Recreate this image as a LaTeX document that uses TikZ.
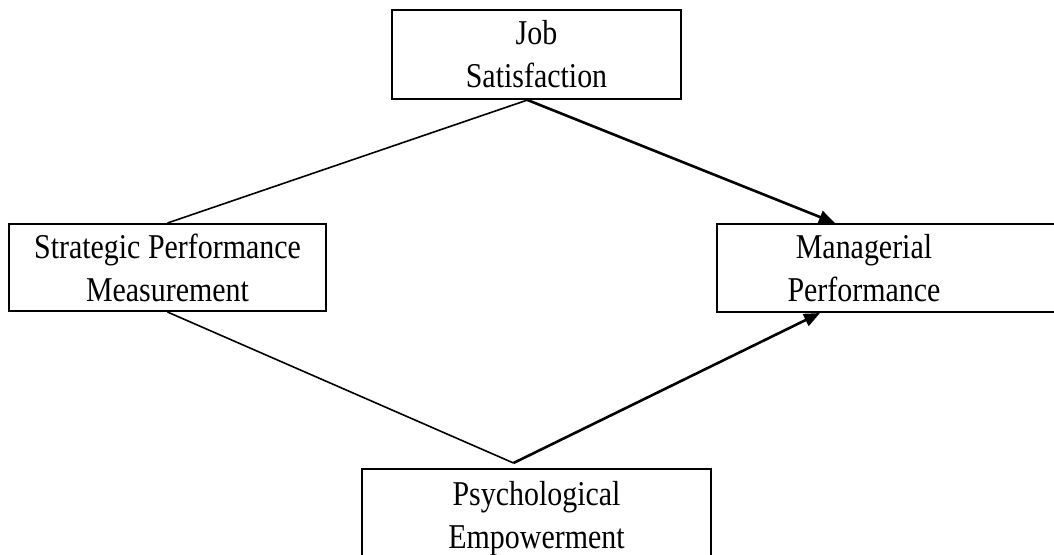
\documentclass[tikz,border=0pt]{standalone}
\usepackage{fontspec}
\setmainfont{Liberation Serif}[FakeStretch=0.86]
\usetikzlibrary{arrows.meta}

\begin{document}
\begin{tikzpicture}[x=0.5pt, y=-0.5pt, >={Triangle[length=8pt,width=6.5pt]}]

\tikzstyle{box}=[draw, line width=1pt, align=center, font=\fontsize{17.4}{21.5}\selectfont]
\tikzstyle{txt}=[align=center, font=\fontsize{17.4}{21.5}\selectfont]
\tikzstyle{link}=[line width=0.8pt]
\tikzstyle{arrow}=[->, line width=1.3pt]

\useasboundingbox (0,0) rectangle (1054,554);

% --- variables ---
\node[box, minimum width=144.5pt, minimum height=44.5pt] (job) at (536.5,54.5) {Job\\Satisfaction};
\node[box, minimum width=158.5pt, minimum height=43.5pt] (spm) at (167.5,267.5) {Strategic Performance\\Measurement};
\node[box, minimum width=182pt, minimum height=44pt, anchor=west] (mp) at (716,268) {};
\node[txt] (mptext) at (864,268) {Managerial\\Performance};
\node[box, minimum width=174.5pt, minimum height=50pt] (pe) at (536.5,519) {Psychological\\Empowerment};

% --- meeting points ---
\coordinate (jmeet) at ([xshift=-4.5pt]job.south);
\coordinate (pmeet) at ([xshift=-11.5pt, yshift=2.5pt]pe.north);
\coordinate (mptop) at ([xshift=59.5pt]mp.north west);
\coordinate (mpbot) at ([xshift=52pt]mp.south west);

% --- paths ---
\draw[link] (spm.north) -- (jmeet);
\draw[arrow] (jmeet) -- (mptop);
\draw[link] (spm.south) -- (pmeet);
\draw[arrow] (pmeet) -- (mpbot);

\end{tikzpicture}
\end{document}
